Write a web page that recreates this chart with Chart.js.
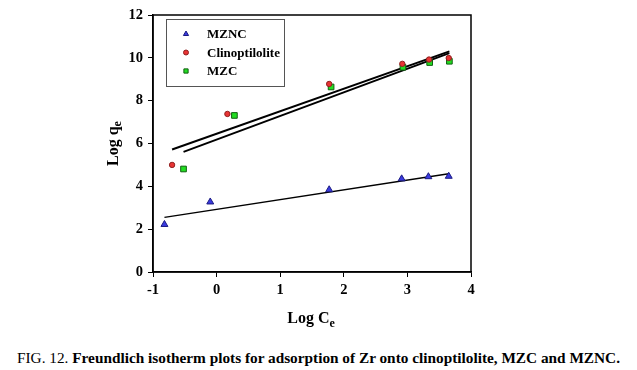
<!DOCTYPE html>
<html>
<head>
<meta charset="utf-8">
<script src="https://cdn.jsdelivr.net/npm/chart.js@4/dist/chart.umd.min.js"></script>
<style>
body { margin: 0; background: #fff; }
#wrap { position: relative; width: 637px; height: 370px; }
#chart { position: absolute; left: 0; top: 0; }
#caption { position: absolute; left: 17px; top: 349px; font: bold 15.3px "Liberation Serif", serif; color: #000; white-space: nowrap; }
#caption span { font-weight: normal; }
</style>
</head>
<body>
<div id="wrap">
  <canvas id="chart" width="637" height="340"></canvas>
  <div id="caption"><span>FIG. 12.</span> Freundlich isotherm plots for adsorption of Zr onto clinoptilolite, MZC and MZNC.</div>
</div>
<script>
// values
var xTicks = [-1, 0, 1, 2, 3, 4];
var yTicks = [0, 2, 4, 6, 8, 10, 12];

var mzncX = [-0.82, -0.10, 1.77, 2.91, 3.33, 3.65];
var mzncY = [2.22, 3.27, 3.84, 4.35, 4.45, 4.47];
var clinoX = [-0.70, 0.17, 1.77, 2.92, 3.34, 3.65];
var clinoY = [5.00, 7.38, 8.78, 9.72, 9.92, 9.99];
var mzcX = [-0.52, 0.28, 1.80, 2.93, 3.35, 3.66];
var mzcY = [4.81, 7.31, 8.64, 9.56, 9.78, 9.84];

// fitted lines (end points)
var mzncFitX = [-0.82, 3.65];
var mzncFitY = [2.55, 4.59];
var clinoFitX = [-0.70, 3.66];
var clinoFitY = [5.72, 10.30];
var mzcFitX = [-0.52, 3.66];
var mzcFitY = [5.61, 10.22];

function pts(xs, ys) {
    return xs.map(function(x, i) { return { x: x, y: ys[i] }; });
}

var serif = "'Liberation Serif', 'Times New Roman', serif";

//Box round the plot, legend and axis titles with subscripts
var extras = {
    id: 'extras',
    afterDraw: function(chart) {
        var ctx = chart.ctx;
        var a = chart.chartArea;
        ctx.save();
        ctx.strokeStyle = '#000';
        ctx.lineWidth = 1.5;
        ctx.strokeRect(a.left, a.top, a.right - a.left, a.bottom - a.top);

        // legend box
        ctx.lineWidth = 1;
        ctx.strokeStyle = '#555';
        ctx.strokeRect(166.5, 19.5, 118, 67);
        var rows = [
            { ds: chart.data.datasets[0], y: 34, r: 3 },
            { ds: chart.data.datasets[1], y: 52.5, r: 2.5 },
            { ds: chart.data.datasets[2], y: 71, r: 3 }
        ];
        ctx.font = 'bold 13px ' + serif;
        ctx.textBaseline = 'middle';
        ctx.textAlign = 'left';
        rows.forEach(function(r) {
            ctx.fillStyle = r.ds.backgroundColor;
            ctx.strokeStyle = r.ds.borderColor;
            ctx.lineWidth = 1;
            Chart.helpers.drawPoint(ctx, { pointStyle: r.ds.pointStyle, radius: r.r, rotation: 0, borderWidth: 1 }, 186, r.y);
            ctx.fillStyle = '#000';
            ctx.fillText(r.ds.label, 207, r.y + 1);
        });

        // x title: Log Ce
        ctx.fillStyle = '#000';
        ctx.textBaseline = 'alphabetic';
        ctx.font = 'bold 16px ' + serif;
        var main = 'Log C';
        var w = ctx.measureText(main).width;
        ctx.font = 'bold 12px ' + serif;
        var ws = ctx.measureText('e').width;
        var x0 = 311 - (w + ws) / 2;
        ctx.font = 'bold 16px ' + serif;
        ctx.fillText(main, x0, 323);
        ctx.font = 'bold 12px ' + serif;
        ctx.fillText('e', x0 + w, 327);

        // y title: Log qe
        ctx.translate(118, 143.5);
        ctx.rotate(-Math.PI / 2);
        ctx.font = 'bold 16px ' + serif;
        main = 'Log q';
        w = ctx.measureText(main).width;
        ctx.font = 'bold 12px ' + serif;
        ws = ctx.measureText('e').width;
        x0 = -(w + ws) / 2;
        ctx.font = 'bold 16px ' + serif;
        ctx.fillText(main, x0, 0);
        ctx.font = 'bold 12px ' + serif;
        ctx.fillText('e', x0 + w, 3);
        ctx.restore();
    }
};

var tickFont = { family: serif, size: 14.5, weight: 'bold' };

new Chart(document.getElementById('chart'), {
    type: 'scatter',
    data: {
        datasets: [
            { label: 'MZNC', data: pts(mzncX, mzncY), pointStyle: 'triangle', pointRadius: 4,
              backgroundColor: '#3a3ae0', borderColor: '#1a1a80', borderWidth: 1 },
            { label: 'Clinoptilolite', data: pts(clinoX, clinoY), pointStyle: 'circle', pointRadius: 2.7,
              backgroundColor: '#e83434', borderColor: '#902020', borderWidth: 1 },
            { label: 'MZC', data: pts(mzcX, mzcY), pointStyle: 'rect', pointRadius: 4,
              backgroundColor: '#22dd22', borderColor: '#106010', borderWidth: 1 },
            { label: 'fit MZNC', data: pts(mzncFitX, mzncFitY), showLine: true, pointRadius: 0,
              borderColor: '#000', borderWidth: 1.4 },
            { label: 'fit Clinoptilolite', data: pts(clinoFitX, clinoFitY), showLine: true, pointRadius: 0,
              borderColor: '#000', borderWidth: 2 },
            { label: 'fit MZC', data: pts(mzcFitX, mzcFitY), showLine: true, pointRadius: 0,
              borderColor: '#000', borderWidth: 2 }
        ]
    },
    options: {
        responsive: false,
        animation: false,
        layout: { padding: { top: 15, right: 166, left: 0, bottom: 0 } },
        plugins: { legend: { display: false }, tooltip: { enabled: false } },
        scales: {
            x: {
                type: 'linear', min: -1, max: 4,
                afterBuildTicks: function(s) { s.ticks = xTicks.map(function(v) { return { value: v }; }); },
                afterFit: function(s) { s.height = 68; },
                grid: { drawOnChartArea: false, tickLength: 5, color: '#000' },
                border: { color: '#000', width: 1.5 },
                ticks: { color: '#000', padding: 5, font: tickFont }
            },
            y: {
                type: 'linear', min: 0, max: 12,
                afterBuildTicks: function(s) { s.ticks = yTicks.map(function(v) { return { value: v }; }); },
                afterFit: function(s) { s.width = 153; },
                grid: { drawOnChartArea: false, tickLength: 5, color: '#000' },
                border: { color: '#000', width: 1.5 },
                ticks: { color: '#000', padding: 5, font: tickFont }
            }
        }
    },
    plugins: [extras]
});
</script>
</body>
</html>
